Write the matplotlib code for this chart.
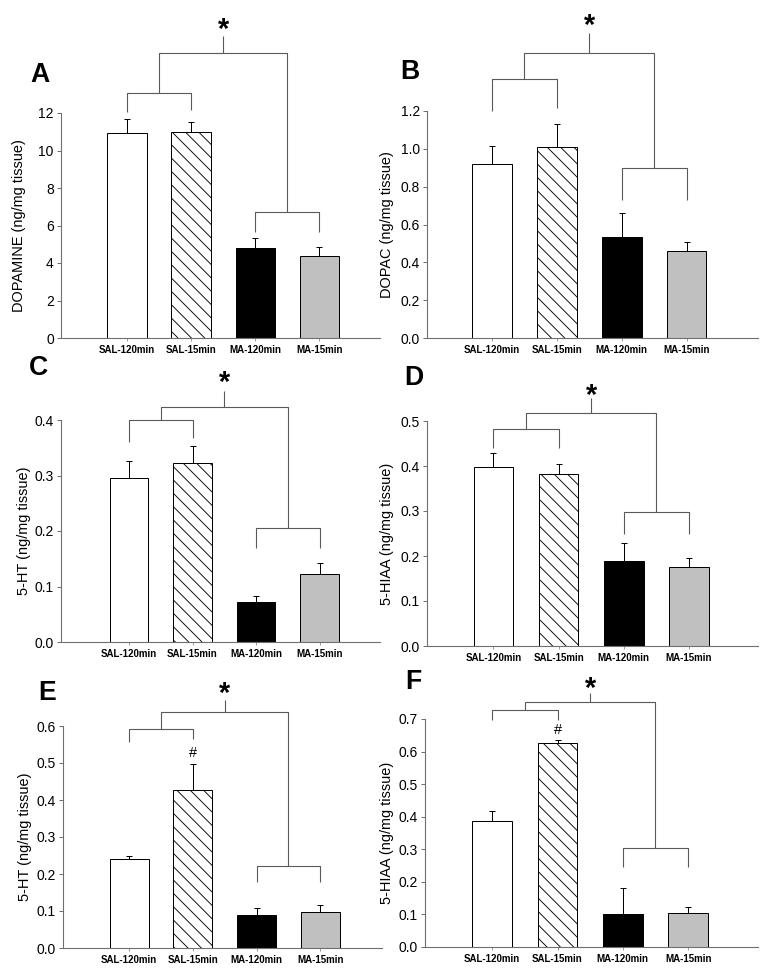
import matplotlib
matplotlib.use('Agg')
import matplotlib.pyplot as plt
from matplotlib.ticker import FormatStrFormatter
import numpy as np

plt.rcParams['font.family'] = ['Liberation Sans', 'DejaVu Sans']
plt.rcParams['hatch.linewidth'] = 0.8

# ---------------- data ----------------
categories = ['SAL-120min', 'SAL-15min', 'MA-120min', 'MA-15min']
panel_letters = ['A', 'B', 'C', 'D', 'E', 'F']
ylabels = ['DOPAMINE (ng/mg tissue)', 'DOPAC (ng/mg tissue)',
           '5-HT (ng/mg tissue)', '5-HIAA (ng/mg tissue)',
           '5-HT (ng/mg tissue)', '5-HIAA (ng/mg tissue)']

dopamine_mean = [10.95, 11.0, 4.8, 4.38]
dopamine_sem = [0.75, 0.5, 0.55, 0.45]
dopac_mean = [0.92, 1.01, 0.535, 0.46]
dopac_sem = [0.095, 0.12, 0.125, 0.05]
ht_c_mean = [0.296, 0.322, 0.072, 0.123]
ht_c_sem = [0.031, 0.031, 0.010, 0.019]
hiaa_d_mean = [0.398, 0.383, 0.190, 0.175]
hiaa_d_sem = [0.031, 0.021, 0.040, 0.020]
ht_e_mean = [0.241, 0.427, 0.090, 0.096]
ht_e_sem = [0.009, 0.070, 0.019, 0.020]
hiaa_f_mean = [0.388, 0.625, 0.100, 0.103]
hiaa_f_sem = [0.030, 0.010, 0.080, 0.020]

y_max = [12, 1.2, 0.4, 0.5, 0.6, 0.7]
y_step = [2, 0.2, 0.1, 0.1, 0.1, 0.1]
hash_marked = [False, False, False, False, True, True]

means = [dopamine_mean, dopac_mean, ht_c_mean, hiaa_d_mean, ht_e_mean, hiaa_f_mean]
sems = [dopamine_sem, dopac_sem, ht_c_sem, hiaa_d_sem, ht_e_sem, hiaa_f_sem]

# ---------------- styling / layout ----------------
W, H, DPI = 762, 975, 80
fig = plt.figure(figsize=(W / DPI, H / DPI), dpi=DPI)

face = ['white', 'white', 'black', '#c0c0c0']
hatches = [None, '\\\\', None, None]
line_gray = '#5a5a5a'

# axes pixel boxes (left, right, top, bottom) and xlim
boxes = [(61, 380, 113, 338), (427, 758, 111, 338),
         (61, 380, 420, 642), (427, 758, 421, 646),
         (63, 382, 726, 948), (425, 758, 719, 947)]
xlims = [(-0.03, 4.95), (0.0, 5.1), (-0.07, 4.95), (-0.02, 5.06),
         (-0.04, 4.97), (-0.03, 5.07)]
# bracket levels in data units:
# (sal_y, sal_leg_l, sal_leg_r, top_y, stem_top, star_y, ma_y, ma_leg, hash_y)
brackets = [
    (13.07, 12.05, 12.16, 15.2, 16.1, 16.85, 6.72, 5.65, None),
    (1.369, 1.20, 1.216, 1.506, 1.612, 1.694, 0.898, 0.729, None),
    (0.400, 0.360, 0.368, 0.423, 0.452, 0.481, 0.205, 0.169, None),
    (0.482, 0.440, 0.440, 0.518, 0.551, 0.573, 0.298, 0.249, None),
    (0.592, 0.557, 0.565, 0.638, 0.670, 0.708, 0.222, 0.178, 0.527),
    (0.728, 0.697, 0.697, 0.752, 0.780, 0.817, 0.304, 0.246, 0.666),
]
letter_pos = [(39.5, 74.5), (410, 72), (39, 368), (414, 378), (47, 693), (413, 682)]
ylabel_x = [19, 387, 24, 387, 25, 387]

x = np.arange(1, 5)
for i in range(6):
    l, r, t, b = boxes[i]
    ax = fig.add_axes([l / W, 1 - b / H, (r - l) / W, (b - t) / H])
    ax.set_xlim(*xlims[i])
    ax.set_ylim(0, y_max[i])
    m = means[i]
    s = sems[i]
    for j in range(4):
        ax.bar(x[j], m[j], width=0.61, color=face[j], edgecolor='black',
               linewidth=0.9, hatch=hatches[j], zorder=2)
    ax.errorbar(x, m, yerr=[np.zeros(4), s], fmt='none', ecolor='black',
                elinewidth=0.9, capsize=3, capthick=0.9, zorder=1)

    for side in ['top', 'right']:
        ax.spines[side].set_visible(False)
    for side in ['left', 'bottom']:
        ax.spines[side].set_color('#707070')
        ax.spines[side].set_linewidth(1.0)
    ax.set_yticks(np.arange(0, y_max[i] + y_step[i] / 2, y_step[i]))
    if i == 0:
        ax.yaxis.set_major_formatter(FormatStrFormatter('%d'))
    else:
        ax.yaxis.set_major_formatter(FormatStrFormatter('%.1f'))
    ax.set_xticks(x)
    ax.set_xticklabels(categories, fontweight='bold', fontsize=8.8)
    ax.tick_params(axis='y', direction='out', length=3.5, width=0.9,
                   color='#707070', labelsize=12.5, pad=3)
    ax.tick_params(axis='x', direction='out', length=3, width=0.8,
                   color='#909090', pad=3)

    sal_y, sl, sr, top_y, stem_top, star_y, ma_y, ma_leg, hash_y = brackets[i]
    kw = dict(color=line_gray, lw=1.0, clip_on=False, solid_capstyle='butt')
    # SAL bracket
    ax.plot([x[0], x[0], x[1], x[1]], [sl, sal_y, sal_y, sr], **kw)
    # MA bracket
    ax.plot([x[2], x[2], x[3], x[3]], [ma_leg, ma_y, ma_y, ma_leg], **kw)
    mid_sal = (x[0] + x[1]) / 2
    mid_ma = (x[2] + x[3]) / 2
    ax.plot([mid_sal, mid_sal, mid_ma, mid_ma], [sal_y, top_y, top_y, ma_y], **kw)
    mid_top = (mid_sal + mid_ma) / 2
    ax.plot([mid_top, mid_top], [top_y, stem_top], **kw)
    fs_star = 26
    ax.annotate('*', xy=(mid_top, star_y), xytext=(0, -0.56 * fs_star),
                textcoords='offset points', ha='center', va='baseline',
                fontsize=fs_star, fontweight='bold', annotation_clip=False)
    if hash_marked[i]:
        ax.text(x[1], hash_y, '#', ha='center', va='center', fontsize=13)

    lx, ly = letter_pos[i]
    fig.text(lx / W, 1 - ly / H, panel_letters[i], ha='center', va='center',
             fontsize=24, fontweight='bold')
    fig.text(ylabel_x[i] / W, 1 - ((t + b) / 2) / H, ylabels[i], rotation=90,
             ha='center', va='center', fontsize=13)

fig.savefig('out.png', dpi=DPI)
